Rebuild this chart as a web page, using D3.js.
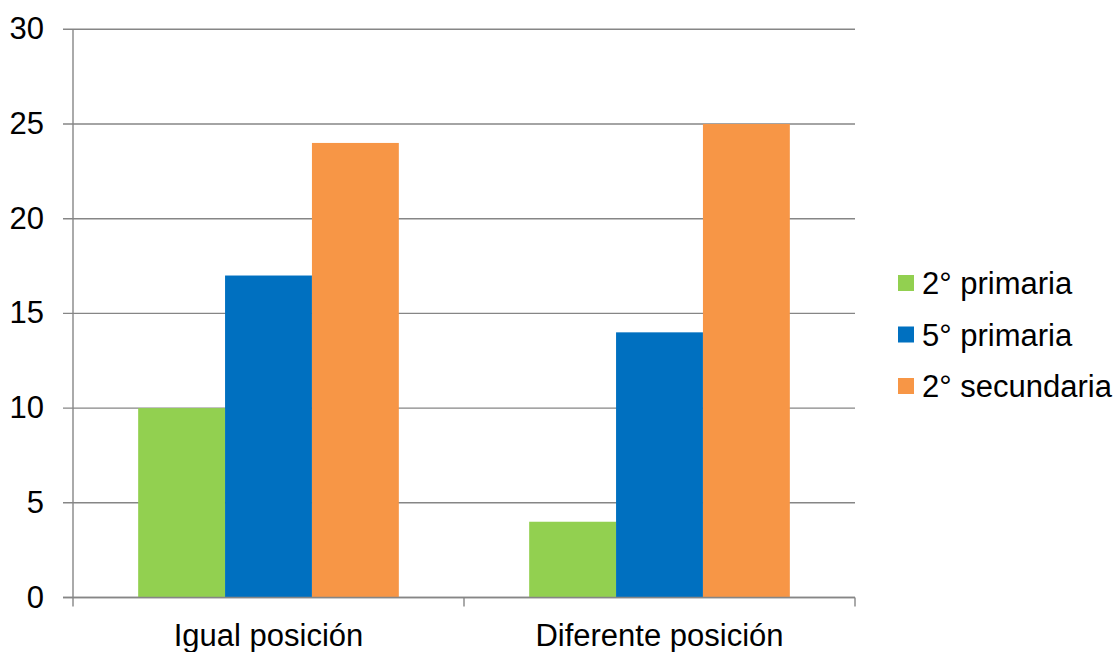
<!DOCTYPE html>
<html>
<head>
<meta charset="utf-8">
<script src="https://cdn.jsdelivr.net/npm/d3@7"></script>
<style>
  html, body { margin: 0; padding: 0; background: #fff; }
  svg { display: block; }
  text { font-family: "Liberation Sans", Arial, sans-serif; fill: #000; }
</style>
</head>
<body>
<svg id="chart" width="1120" height="652"></svg>
<script>
// Categories, series and values
const categories = ["Igual posición", "Diferente posición"];
const seriesNames = ["2° primaria", "5° primaria", "2° secundaria"];
const seriesColors = ["#92D050", "#0070C0", "#F79646"];
const values2Primaria = [10, 4];
const values5Primaria = [17, 14];
const values2Secundaria = [24, 25];
const yTicks = [0, 5, 10, 15, 20, 25, 30];

const seriesValues = [values2Primaria, values5Primaria, values2Secundaria];

const svg = d3.select("#chart");
const plot = { left: 73, right: 855, top: 29.3, bottom: 597.5 };
const fontSize = 31;

const x0 = d3.scaleBand().domain(categories).range([plot.left, plot.right]).padding(0);
const bw = x0.bandwidth();
const barW = bw / (seriesNames.length + 1.5);   // gap width 150%
const x1 = d3.scaleBand()
  .domain(seriesNames)
  .range([barW * 0.75, bw - barW * 0.75])
  .padding(0);

const y = d3.scaleLinear().domain([0, 30]).range([plot.bottom, plot.top]);

const gridColor = "#868686";

// horizontal gridlines (with left tick stubs)
svg.append("g")
  .selectAll("line")
  .data(yTicks)
  .join("line")
  .attr("x1", plot.left - 10)
  .attr("x2", plot.right)
  .attr("y1", d => y(d))
  .attr("y2", d => y(d))
  .attr("stroke", gridColor)
  .attr("stroke-width", 1.4);

// bars
const groups = svg.append("g")
  .selectAll("g")
  .data(categories)
  .join("g")
  .attr("transform", c => `translate(${x0(c)},0)`);

groups.selectAll("rect")
  .data((c, ci) => seriesNames.map((s, si) => ({ s, si, v: seriesValues[si][ci] })))
  .join("rect")
  .attr("x", d => x1(d.s))
  .attr("width", x1.bandwidth())
  .attr("y", d => y(d.v))
  .attr("height", d => y(0) - y(d.v))
  .attr("fill", d => seriesColors[d.si]);

// vertical axis line
svg.append("line")
  .attr("x1", plot.left).attr("x2", plot.left)
  .attr("y1", plot.top).attr("y2", plot.bottom)
  .attr("stroke", gridColor).attr("stroke-width", 1.4);

// baseline + category tick marks
svg.append("line")
  .attr("x1", plot.left - 10).attr("x2", plot.right)
  .attr("y1", plot.bottom).attr("y2", plot.bottom)
  .attr("stroke", gridColor).attr("stroke-width", 1.4);

const catTicks = categories.map(c => x0(c)).concat([plot.right]);
svg.append("g")
  .selectAll("line")
  .data(catTicks)
  .join("line")
  .attr("x1", d => d).attr("x2", d => d)
  .attr("y1", plot.bottom).attr("y2", plot.bottom + 9)
  .attr("stroke", gridColor).attr("stroke-width", 1.4);

// y tick labels
svg.append("g")
  .selectAll("text")
  .data(yTicks)
  .join("text")
  .attr("x", 44)
  .attr("y", d => y(d) + 10)
  .attr("text-anchor", "end")
  .attr("font-size", fontSize)
  .text(d => d);

// category labels
svg.append("g")
  .selectAll("text")
  .data(categories)
  .join("text")
  .attr("x", c => x0(c) + bw / 2)
  .attr("y", 646)
  .attr("text-anchor", "middle")
  .attr("font-size", fontSize)
  .text(c => c);

// legend
const legend = svg.append("g")
  .selectAll("g")
  .data(seriesNames)
  .join("g")
  .attr("transform", (d, i) => `translate(898,${283 + i * 51.5})`);

legend.append("rect")
  .attr("x", 0).attr("y", -8)
  .attr("width", 16).attr("height", 16)
  .attr("fill", (d, i) => seriesColors[i]);

legend.append("text")
  .attr("x", 24)
  .attr("y", 11)
  .attr("font-size", fontSize)
  .text(d => d);
</script>
</body>
</html>
